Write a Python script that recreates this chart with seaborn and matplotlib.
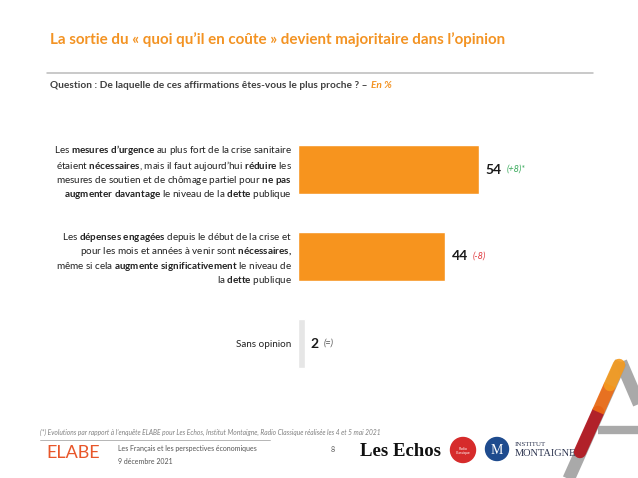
import matplotlib
matplotlib.use("Agg")
import matplotlib.pyplot as plt
import seaborn as sns
import pandas as pd
from matplotlib.lines import Line2D
from matplotlib.patches import Ellipse

# Data
labels = [
    "Les $\\mathbf{mesures\\ d’urgence}$ au plus fort de la crise sanitaire\n"
    "étaient $\\mathbf{nécessaires}$, mais il faut aujourd’hui $\\mathbf{réduire}$ les\n"
    "mesures de soutien et de chômage partiel pour $\\mathbf{ne\\ pas}$\n"
    "$\\mathbf{augmenter\\ davantage}$ le niveau de la $\\mathbf{dette}$ publique",
    "Les $\\mathbf{dépenses\\ engagées}$ depuis le début de la crise et\n"
    "pour les mois et années à venir sont $\\mathbf{nécessaires,}$\n"
    "même si cela $\\mathbf{augmente\\ significativement}$ le niveau de\n"
    "la $\\mathbf{dette}$ publique",
    "Sans opinion",
]
values = [54, 44, 2]
deltas = ["(+8)*", "(-8)", "(=)"]
delta_colors = ["#3AAA5C", "#E0393E", "#555555"]
bar_colors = ["#F7941E", "#F7941E", "#E6E6E6"]

ORANGE = "#F39323"

sns.set_theme(style="white")
plt.rcParams["font.family"] = ["Lato", "DejaVu Sans"]
plt.rcParams["mathtext.fontset"] = "custom"
plt.rcParams["mathtext.rm"] = "Lato"
plt.rcParams["mathtext.bf"] = "Lato:bold"
plt.rcParams["mathtext.it"] = "Lato:italic"

W, H = 638, 478
fig = plt.figure(figsize=(W / 100, H / 100), dpi=100)


def px(x, y):
    return x / W, 1 - y / H


df = pd.DataFrame({"label": labels, "value": values})
ax = fig.add_axes([298 / W, (H - 387) / H, 335 / W, 261 / H])
sns.barplot(data=df, x="value", y="label", hue="label", palette=bar_colors,
            legend=False, width=0.565, saturation=1, ax=ax)
ax.set_xlim(0, 100)
ax.set_ylim(2.5, -0.5)
ax.set_xlabel("")
ax.set_ylabel("")
ax.set_xticks([])
sns.despine(ax=ax, left=True, bottom=True)
ax.tick_params(axis="y", length=0, pad=4.5, labelsize=7.15, colors="#222222")
for lbl in ax.get_yticklabels():
    lbl.set_multialignment("right")
    lbl.set_linespacing(1.12)

# value labels + evolution vs previous wave
for i, (v, d, c) in enumerate(zip(values, deltas, delta_colors)):
    t = ax.annotate(str(v), xy=(v, i), xytext=(4.5, 0), textcoords="offset points",
                    ha="left", va="center", fontsize=10, fontweight="bold",
                    color="#1a1a1a")
    ax.annotate(d, xy=(1, 0.5), xycoords=t, xytext=(3.5, 0), textcoords="offset points",
                ha="left", va="center", fontsize=6.6, fontstyle="italic", color=c)

# Title and question
fig.text(*px(50, 40), "La sortie du « quoi qu’il en coûte » devient majoritaire dans l’opinion",
         color=ORANGE, fontsize=10.9, fontweight="bold", va="center", ha="left")
fig.add_artist(Line2D([47 / W, 593 / W], [1 - 73 / H] * 2, color="#BBBBBB", lw=1.1))
q = fig.text(*px(50, 85), "Question : De laquelle de ces affirmations êtes-vous le plus proche ? –",
             color="#404040", fontsize=7.3, fontweight="bold", va="center", ha="left")
plt.annotate("En %", xy=(1, 0.5), xycoords=q, xytext=(2.5, 0), textcoords="offset points",
             color=ORANGE, fontsize=7.3, fontweight="bold", fontstyle="italic",
             va="center", ha="left", annotation_clip=False)

# Footer
fig.text(*px(40, 432), "(*) Evolutions par rapport à l’enquête ELABE pour Les Echos, Institut Montaigne, "
         "Radio Classique réalisée les 4 et 5 mai 2021",
         color="#808080", fontsize=4.8, fontstyle="italic", va="center", ha="left")
fig.add_artist(Line2D([40 / W, 270 / W], [1 - 440 / H] * 2, color="#AAAAAA", lw=0.6))
fig.text(*px(46, 453), "ELABE", color="#E8562A", fontsize=13, va="center", ha="left")
fig.text(*px(118, 448), "Les Français et les perspectives économiques",
         color="#555555", fontsize=5, va="center", ha="left")
fig.text(*px(118, 462), "9 décembre 2021", color="#555555", fontsize=5, va="center", ha="left")
fig.text(*px(333, 449), "8", color="#555555", fontsize=5, va="center", ha="center")
fig.text(*px(360, 451), "Les Echos", family="Liberation Serif", fontweight="bold",
         color="#111111", fontsize=13.5, va="center", ha="left")
fig.add_artist(Ellipse(px(463, 450), 25 / W, 25 / H, color="#D62B2B"))
fig.text(*px(463, 451), "Radio\nClassique", color="white", fontsize=2.5,
         va="center", ha="center", linespacing=0.9)
fig.add_artist(Ellipse(px(497, 449), 23 / W, 23 / H, color="#1E4B8E"))
fig.text(*px(497, 450), "M", family="Liberation Serif", color="white", fontsize=10,
         va="center", ha="center")
fig.text(*px(515, 444), "INSTITUT", family="Liberation Serif", color="#2D3550",
         fontsize=5, va="center", ha="left")
fig.text(*px(515, 454), "MONTAIGNE", family="Liberation Serif", color="#2D3550",
         fontsize=7.5, va="center", ha="left")


# Decorative "A" logo
def seg(x0, y0, x1, y1, color, lw, cap="butt"):
    fig.add_artist(Line2D([x0 / W, x1 / W], [1 - y0 / H, 1 - y1 / H], color=color,
                          lw=lw, solid_capstyle=cap, alpha=0.9))


seg(566, 485, 621, 362, "#A0A0A0", 9)
seg(621, 362, 645, 418, "#A0A0A0", 9)
seg(598, 430, 645, 430, "#A0A0A0", 6)
seg(580, 452, 598, 412, "#B3121B", 9, "round")
seg(598, 412, 610, 385, "#EE6B12", 9)
seg(610, 385, 619, 365, "#F59A1C", 9, "round")

fig.savefig("out.png", dpi=100)
